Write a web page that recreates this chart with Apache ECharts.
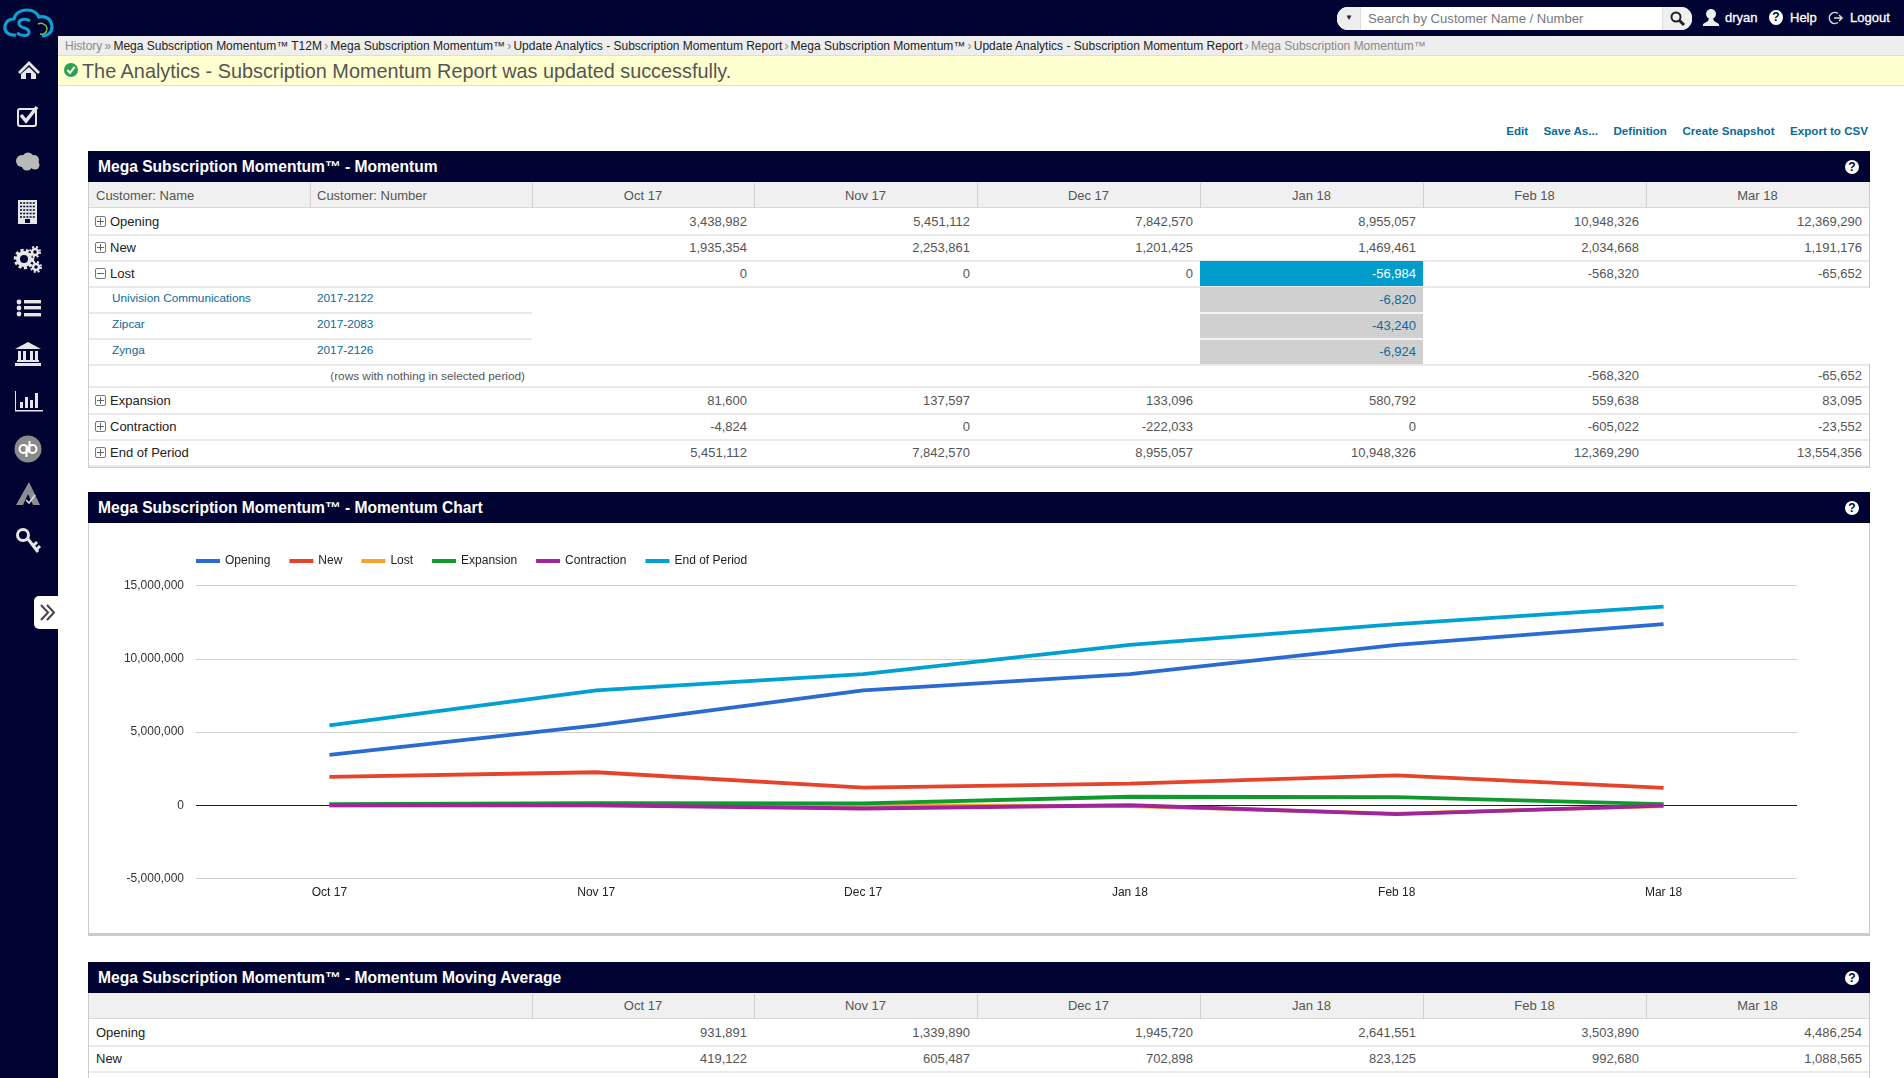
<!DOCTYPE html>
<html>
<head>
<meta charset="utf-8">
<title>Mega Subscription Momentum</title>
<script src="https://cdn.jsdelivr.net/npm/echarts@6/dist/echarts.min.js"></script>
<style>
html,body{margin:0;padding:0;width:1904px;height:1078px;overflow:hidden;background:#fff;font-family:"Liberation Sans",Arial,sans-serif;color:#555}
div{box-sizing:border-box}
.abs{position:absolute;white-space:nowrap}
.navy{background:#010433}
.panel{position:absolute;left:88px;width:1782px;border-left:1px solid #ccc;border-right:1px solid #ccc}
.phead{position:absolute;left:-1px;right:-1px;background:#010433;color:#fff;font-size:15.6px;font-weight:bold;padding-left:10px;line-height:31px;height:31px}
.help{position:absolute;background:#fff;color:#010433;border-radius:50%;font-weight:bold;text-align:center}
.cell{position:absolute;white-space:nowrap;font-size:13px}
.line{position:absolute;background:#eaeaea;height:2px}
.plus{position:absolute;width:11px;height:11px;border:1px solid #777;border-radius:2px}
.plus:before{content:"";position:absolute;left:1px;right:1px;top:4px;height:1px;background:#666}
.plus.p:after{content:"";position:absolute;top:1px;bottom:1px;left:4px;width:1px;background:#666}
.link{color:#0b6a9b}
#bread span{margin-right:2.2px}
</style>
</head>
<body>
<div class="abs navy" style="left:0;top:0;width:1904px;height:36px"></div>
<div class="abs navy" style="left:0;top:0;width:58px;height:1078px"></div>

<svg class="abs" style="left:0;top:0" width="60" height="640" fill="#e6e6e6">
  <g fill="none" stroke="#0f9ed2">
    <path stroke-width="3.2" d="M16 35C8 36 4 31 5 26C6 21 10 19 14 19C15 13 21 10 27 10C33 10 37 13 39 17C46 15 52 20 52 27C52 32 48 36 42 36"/>
    <path stroke-width="3" d="M30 21C26 18 18 19 19 24C20 29 29 27 29 32C29 37 21 36 17 33"/>
  </g>
  <path d="M38 24C42 22 47 25 47 29C47 33 43 35 40 34" fill="none" stroke="#7fbf4a" stroke-width="1.4"/>
  <path d="M18 72L29 61L40 72L38 74L29 65L20 74ZM21 74L29 67L36 74V79H31V73H26V79H21Z"/>
  <rect x="18" y="109" width="18" height="17" rx="2" fill="none" stroke="#e6e6e6" stroke-width="2"/>
  <path d="M21 115L26 121L37 107" fill="none" stroke="#e6e6e6" stroke-width="3.5"/>
  <g fill="#b9b9b9"><circle cx="22" cy="161" r="6"/><circle cx="28" cy="158" r="5.5"/><circle cx="34" cy="160" r="5"/><circle cx="35" cy="165" r="4.5"/><circle cx="27" cy="165" r="5.5"/></g>
  <rect x="18" y="200" width="19" height="24"/>
  <g stroke="#010433" stroke-width="1.6" stroke-dasharray="2 1.2"><path d="M20 203H35M20 206.500H35M20 210H35M20 213.500H35M20 217H35"/></g>
  <rect x="25" y="219" width="5" height="4" fill="#010433"/>
  <g fill="none" stroke="#e6e6e6"><circle cx="24" cy="259" r="6" stroke-width="4"/><circle cx="24" cy="259" r="8.500" stroke-width="3.500" stroke-dasharray="3 2.200"/>
  <circle cx="35" cy="252" r="3" stroke-width="2.500"/><circle cx="36" cy="267" r="3" stroke-width="2.500"/><circle cx="35" cy="252" r="5" stroke-width="2" stroke-dasharray="2 2"/><circle cx="36" cy="267" r="5" stroke-width="2" stroke-dasharray="2 2"/></g>
  <circle cx="19" cy="302" r="2.400"/><circle cx="19" cy="308" r="2.400"/><circle cx="19" cy="314" r="2.400"/>
  <rect x="24" y="300" width="17" height="3.400"/><rect x="24" y="306" width="17" height="3.400"/><rect x="24" y="313" width="17" height="3.400"/>
  <path d="M28 342L41 349H15Z"/><rect x="15" y="363" width="26" height="3"/><rect x="17" y="360" width="22" height="2"/>
  <rect x="18" y="351" width="3" height="9"/><rect x="23" y="351" width="3" height="9"/><rect x="30" y="351" width="3" height="9"/><rect x="35" y="351" width="3" height="9"/>
  <path d="M15 391H16V410H43V411.500H15Z"/><rect x="20" y="402" width="3" height="6"/><rect x="25" y="397" width="3" height="11"/><rect x="30" y="400" width="3" height="8"/><rect x="35" y="393" width="3" height="15"/>
  <circle cx="28" cy="449" r="13.500" fill="#8a8a8a"/>
  <g fill="none" stroke="#fff" stroke-width="2"><circle cx="23.500" cy="449" r="4"/><circle cx="32.500" cy="449" r="4"/><path d="M26.500 445V457M29.500 441V453"/></g>
  <path d="M29 482L40 505H33L28 494L23 505H16Z" fill="#8c8c94"/><path d="M26 500L29 503L35 495" fill="none" stroke="#ddd" stroke-width="1.600"/>
  <circle cx="23" cy="535" r="5.500" fill="none" stroke="#e6e6e6" stroke-width="3"/>
  <path d="M28 539L38 552M33 546L37 542M36 550L40 546" fill="none" stroke="#e6e6e6" stroke-width="3"/>
</svg>
<div class="abs" style="left:34px;top:596px;width:24px;height:33px;background:#fff;border-radius:5px 0 0 5px"></div>
<svg class="abs" style="left:34px;top:596px" width="24" height="33" fill="none" stroke="#444" stroke-width="2"><path d="M7 9L14 16.500L7 24M13 9L20 16.500L13 24"/></svg>

<!-- top bar right side -->
<div class="abs" style="left:1337px;top:7px;width:355px;height:23px;background:#fff;border-radius:11px;overflow:hidden">
  <div class="abs" style="left:0;top:0;width:24px;height:23px;background:#eee;border-right:1px solid #ddd"></div>
  <div class="abs" style="left:8px;top:6px;font-size:8px;color:#222">▼</div>
  <div class="abs" style="left:31px;top:4px;font-size:13.1px;color:#777">Search by Customer Name / Number</div>
  <div class="abs" style="left:325px;top:0;width:30px;height:23px;background:#f0f0f0;border-left:1px solid #ddd"></div>
  <svg class="abs" style="left:332px;top:3px" width="18" height="18" fill="none" stroke="#222" stroke-width="2"><circle cx="7" cy="7" r="4.500"/><path d="M10 10L15 15" stroke-width="3"/></svg>
</div>
<svg class="abs" style="left:1702px;top:8px" width="18" height="20" fill="#eee"><circle cx="9" cy="6" r="5"/><path d="M7 10H11L12 13L17 16V18H1V16L6 13Z"/></svg>
<div class="abs" style="left:1725px;top:10px;font-size:13px;color:#fff;-webkit-text-stroke:.3px #fff">dryan</div>
<div class="help" style="left:1769px;top:10px;width:14px;height:15px;font-size:12px;line-height:15px">?</div>
<div class="abs" style="left:1790px;top:10px;font-size:13px;color:#fff;-webkit-text-stroke:.3px #fff">Help</div>
<svg class="abs" style="left:1828px;top:10px" width="16" height="16" fill="none" stroke="#ddd" stroke-width="1.500"><path d="M10 3.500A5.500 5.500 0 1 0 10 12.500"/><path d="M6 8H14M11 5L14 8L11 11"/></svg>
<div class="abs" style="left:1850px;top:10px;font-size:13px;color:#fff;-webkit-text-stroke:.3px #fff">Logout</div>

<div class="abs" id="bread" style="left:58px;top:36px;width:1846px;height:20px;background:#eee;border-bottom:1px solid #ddd;font-size:12px;line-height:21px;padding-left:7px;color:#222"></div>
<div class="abs" style="left:58px;top:56px;width:1846px;height:30px;background:#ffffd0;border-bottom:1px solid #ddd"></div>
<svg class="abs" style="left:63px;top:62px" width="16" height="16"><circle cx="8" cy="8" r="7" fill="#2ea04f"/><path d="M4.500 8L7 11L11.500 5" fill="none" stroke="#fff" stroke-width="2"/></svg>
<div class="abs" style="left:82px;top:59px;font-size:19.85px;line-height:24px;color:#555">The Analytics - Subscription Momentum Report was updated successfully.</div>

<div class="abs link" id="actions" style="right:36px;top:124px;font-size:11.6px;font-weight:bold"></div>

<div class="panel" id="panel1" style="top:151px;height:317px;border-bottom:3px solid #ccc"></div>
<div class="panel" id="panel2" style="top:492px;height:444px;border-bottom:3px solid #ccc">
  <div id="chartBox" style="position:absolute;left:-1px;top:31px;width:1782px;height:412px"></div>
</div>
<div class="panel" id="panel3" style="top:962px;height:116px"></div>

<script>
var categories = ['Oct 17', 'Nov 17', 'Dec 17', 'Jan 18', 'Feb 18', 'Mar 18'];
var opening = [3438982, 5451112, 7842570, 8955057, 10948326, 12369290];
var newSubs = [1935354, 2253861, 1201425, 1469461, 2034668, 1191176];
var lost = [0, 0, 0, -56984, -568320, -65652];
var expansion = [81600, 137597, 133096, 580792, 559638, 83095];
var contraction = [-4824, 0, -222033, 0, -605022, -23552];
var endOfPeriod = [5451112, 7842570, 8955057, 10948326, 12369290, 13554356];

var lostNames = ['Univision Communications', 'Zipcar', 'Zynga'];
var lostNumbers = ['2017-2122', '2017-2083', '2017-2126'];
var lostJan = [-6820, -43240, -6924];
var lostOther = [-568320, -65652];

var movingOpening = [931891, 1339890, 1945720, 2641551, 3503890, 4486254];
var movingNew = [419122, 605487, 702898, 823125, 992680, 1088565];

var seriesNames = ['Opening', 'New', 'Lost', 'Expansion', 'Contraction', 'End of Period'];
var seriesColors = ['#2a6bd0', '#e5432a', '#f7a034', '#0f9a2c', '#a0249a', '#00a0d0'];

var crumbs = ['Mega Subscription Momentum™ T12M', 'Mega Subscription Momentum™', 'Update Analytics - Subscription Momentum Report',
    'Mega Subscription Momentum™', 'Update Analytics - Subscription Momentum Report'];
var actions = ['Edit', 'Save As...', 'Definition', 'Create Snapshot', 'Export to CSV'];

var colX = [0, 221, 443, 665, 888, 1111, 1334, 1557, 1780];   // column edges inside a panel

function fmt(v) { return v.toLocaleString('en-US'); }

function add(parent, cls, style, text) {
    var d = document.createElement('div');
    d.className = cls;
    d.style.cssText = style;
    if (text !== undefined) d.textContent = text;
    parent.appendChild(d);
    return d;
}

function panelHead(p, title) {
    add(p, 'phead', 'top:0', title);
    add(p, 'help', 'right:10px;top:9px;width:14px;height:14px;font-size:12px;line-height:14px', '?');
}

function headerRow(p, first, second, textTop) {
    add(p, '', 'position:absolute;left:0;right:0;top:31px;height:26px;background:#f0f0f0;border-bottom:1px solid #d8d8d8');
    if (first) add(p, 'cell', 'left:7px;top:' + textTop + 'px;', first);
    if (second) add(p, 'cell', 'left:228px;top:' + textTop + 'px;', second);
    for (var i = 1; i < 8; i++) {
        if (i >= 2 || first) add(p, '', 'position:absolute;top:32px;height:25px;width:1px;background:#d0d0d0;left:' + colX[i] + 'px');
    }
    for (var c = 0; c < 6; c++) {
        add(p, 'cell', 'top:' + textTop + 'px;text-align:center;left:' + colX[c + 2] + 'px;width:' + (colX[c + 3] - colX[c + 2]) + 'px', categories[c]);
    }
}

function valueCell(p, col, y, v, color) {
    var s = 'top:' + y + 'px;text-align:right;left:' + colX[col + 2] + 'px;width:' + (colX[col + 3] - colX[col + 2] - 7) + 'px;';
    if (color) s += 'color:' + color;
    add(p, 'cell', s, fmt(v));
}

// one full-width row, y is the top of the row inside the panel
function mainRow(p, y, label, values, icon) {
    var textLeft = icon ? 21 : 7;
    if (icon) add(p, 'plus ' + (icon == 'plus' ? 'p' : ''), 'left:6px;top:' + (y + 7) + 'px');
    add(p, 'cell', 'left:' + textLeft + 'px;top:' + (y + 5) + 'px;color:#222', label);
    for (var i = 0; i < values.length; i++) valueCell(p, i, y + 5, values[i]);
    add(p, 'line', 'left:0;right:0;top:' + (y + 25) + 'px');
}

document.getElementById('bread').innerHTML = '<span style="color:#888">History</span><span style="color:#888">»</span>' +
    crumbs.map(function (c) { return '<span>' + c + '</span><span style="color:#888">›</span>'; }).join('') +
    '<span style="color:#888">Mega Subscription Momentum™</span>';

var actBox = document.getElementById('actions');
actions.forEach(function (a, i) {
    add(actBox, '', 'display:inline-block;margin-left:' + (i ? 15.5 : 0) + 'px', a);
});

// ---------- first table
var p1 = document.getElementById('panel1');
panelHead(p1, 'Mega Subscription Momentum™ - Momentum');
headerRow(p1, 'Customer: Name', 'Customer: Number', 37);
mainRow(p1, 58, 'Opening', opening, 'plus');
mainRow(p1, 84, 'New', newSubs, 'plus');

add(p1, '', 'position:absolute;background:#009ccc;top:110px;height:25px;left:' + colX[5] + 'px;width:' + (colX[6] - colX[5]) + 'px');
mainRow(p1, 110, 'Lost', lost.slice(0, 3), 'minus');
valueCell(p1, 3, 115, lost[3], '#fff');
valueCell(p1, 4, 115, lost[4]);
valueCell(p1, 5, 115, lost[5]);

// right border of the panel stops next to the drill-down rows
add(p1, '', 'position:absolute;background:#fff;right:-1px;width:1px;top:137px;height:76px');

add(p1, '', 'position:absolute;background:repeating-linear-gradient(#cdcdcd 0 1px,#d3d3d3 1px 2px);top:136px;height:77px;left:' + colX[5] + 'px;width:' + (colX[6] - colX[5]) + 'px');
for (var i = 0; i < lostNames.length; i++) {
    var y = 136 + i * 26;
    add(p1, 'cell', 'font-size:11.8px;color:#0b6a9b;left:23px;top:' + (y + 4) + 'px', lostNames[i]);
    add(p1, 'cell', 'font-size:11.8px;color:#0b6a9b;left:228px;top:' + (y + 4) + 'px', lostNumbers[i]);
    valueCell(p1, 3, y + 5, lostJan[i], '#0b6a9b');
    add(p1, 'line', 'left:0;width:' + colX[2] + 'px;top:' + (y + 25) + 'px');
    if (i < 2) add(p1, 'line', 'background:#f4f4f4;left:' + colX[5] + 'px;width:' + (colX[6] - colX[5]) + 'px;top:' + (y + 25) + 'px');
}
add(p1, 'line', 'left:' + colX[2] + 'px;right:0;top:213px');
add(p1, 'cell', 'font-size:11.8px;text-align:right;left:0;width:' + (colX[2] - 7) + 'px;top:218px', '(rows with nothing in selected period)');
valueCell(p1, 4, 217, lostOther[0]);
valueCell(p1, 5, 217, lostOther[1]);
add(p1, 'line', 'left:0;right:0;top:235px');
mainRow(p1, 237, 'Expansion', expansion, 'plus');
mainRow(p1, 263, 'Contraction', contraction, 'plus');
mainRow(p1, 289, 'End of Period', endOfPeriod, 'plus');

// ---------- moving average table
var p2 = document.getElementById('panel2');
panelHead(p2, 'Mega Subscription Momentum™ - Momentum Chart');
var p3 = document.getElementById('panel3');
panelHead(p3, 'Mega Subscription Momentum™ - Momentum Moving Average');
headerRow(p3, '', '', 36);
mainRow(p3, 58, 'Opening', movingOpening);
mainRow(p3, 84, 'New', movingNew);

// ---------- chart
var chart = echarts.init(document.getElementById('chartBox'));
var seriesValues = [opening, newSubs, lost, expansion, contraction, endOfPeriod];
var series = [];
for (var s = 0; s < seriesNames.length; s++) {
    series.push({
        name: seriesNames[s],
        type: 'line',
        data: seriesValues[s],
        showSymbol: false,
        lineStyle: { width: 3.8, color: seriesColors[s] },
        itemStyle: { color: seriesColors[s] }
    });
}
chart.setOption({
    animation: false,
    textStyle: { fontFamily: '"Liberation Sans", Arial, sans-serif' },
    legend: {
        left: 103, top: 27,
        icon: 'rect',
        itemWidth: 24, itemHeight: 4, itemGap: 19,
        textStyle: { fontSize: 12, color: '#222' },
        data: seriesNames
    },
    grid: { left: 108, right: 73, top: 62.5, bottom: 56.5 },
    xAxis: {
        type: 'category',
        data: categories,
        axisLine: { show: false },
        axisTick: { show: false },
        axisLabel: { fontSize: 12, color: '#222', margin: 8 }
    },
    yAxis: {
        type: 'value',
        min: -5000000, max: 15000000, interval: 5000000,
        axisLine: { show: false },
        axisTick: { show: false },
        axisLabel: { fontSize: 12, color: '#333', margin: 12, formatter: function (v) { return fmt(v); } },
        // the zero line is the dark one
        splitLine: { lineStyle: { width: 1, color: ['#cfcfcf', '#222222', '#cfcfcf', '#cfcfcf', '#cfcfcf'] } }
    },
    series: series
});

window.addEventListener('resize', function () { chart.resize(); });
</script>
</body>
</html>
